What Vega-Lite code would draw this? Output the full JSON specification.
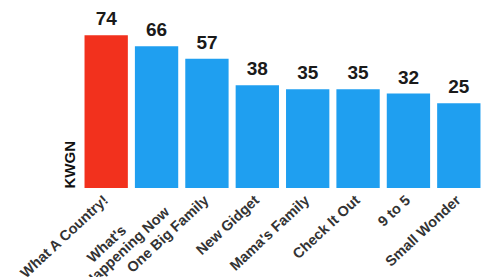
{
  "$schema": "https://vega.github.io/schema/vega-lite/v6.json",
  "width": 403,
  "height": 168,
  "autosize": "none",
  "padding": {"left": 81, "top": 20, "right": 9, "bottom": 89},
  "background": "white",
  "title": {"text": "DENVER", "fontSize": 33, "color": "#b4b4b4", "font": "Liberation Sans", "fontWeight": "bold", "anchor": "middle", "offset": 3, "dy": 10, "baseline": "alphabetic"},
  "data": {"values": [
    {"show": "What A Country!", "rating": 74, "hl": "yes"},
    {"show": "What's\u2800\u2800\u2800\u2800\nHappening Now", "rating": 66, "hl": "no"},
    {"show": "One Big Family", "rating": 57, "hl": "no"},
    {"show": "New Gidget", "rating": 38, "hl": "no"},
    {"show": "Mama's Family", "rating": 35, "hl": "no"},
    {"show": "Check It Out", "rating": 35, "hl": "no"},
    {"show": "9 to 5", "rating": 32, "hl": "no"},
    {"show": "Small Wonder", "rating": 25, "hl": "no"}
  ]},
  "encoding": {
    "x": {"field": "show", "type": "nominal", "sort": null,
      "scale": {"paddingInner": 0.14, "paddingOuter": 0.07},
      "axis": {"title": null, "labelAngle": -43, "labelAlign": "right", "labelBaseline": "middle", "labelFontSize": 14.5, "labelFont": "Liberation Sans", "labelFontWeight": "bold", "labelColor": "#333", "ticks": false, "domain": false, "labelPadding": 10, "labelExpr": "split(datum.label, '\\n')", "labelLineHeight": 16}},
    "y": {"field": "rating", "type": "quantitative", "scale": {"domain": [-36, 84.9], "zero": false, "nice": false},
      "axis": {"title": "KWGN", "titleAnchor": "start", "titleFontSize": 15, "titleFont": "Liberation Sans", "titleFontWeight": "bold", "titleColor": "#111", "labels": false, "ticks": false, "domain": false, "grid": false, "titlePadding": 4}}
  },
  "layer": [
    {"mark": {"type": "bar"},
     "encoding": {"y2": {"datum": -36}, "color": {"field": "hl", "type": "nominal", "scale": {"domain": ["yes", "no"], "range": ["#f2311d", "#1f9ff0"]}, "legend": null}}},
    {"mark": {"type": "text", "dy": -6, "baseline": "bottom", "fontSize": 19, "font": "Liberation Sans", "fontWeight": "bold", "color": "#1a1a1a"},
     "encoding": {"text": {"field": "rating", "type": "quantitative"}}}
  ],
  "config": {"view": {"stroke": null}}
}
